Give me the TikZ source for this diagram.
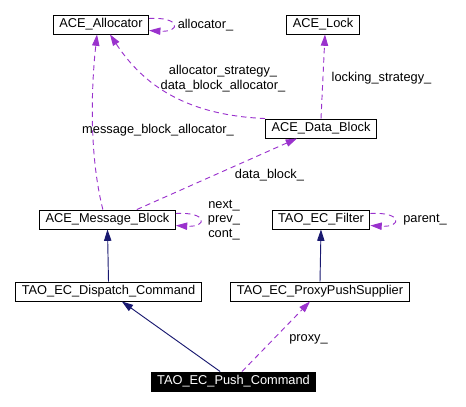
\documentclass[tikz,border=0pt]{standalone}
\usepackage{fontspec}
\setmainfont{Liberation Sans}
\usetikzlibrary{arrows.meta,positioning}
\definecolor{usec}{HTML}{9A32CD}
\definecolor{inhc}{HTML}{191970}
\tikzset{
  cls/.style={draw=black, line width=0.7pt, inner xsep=4.5pt, inner ysep=0pt, minimum height=14.25pt, font=\fontsize{9.6}{11}\selectfont},
  cur/.style={cls, fill=black, text=white},
  lbl/.style={font=\fontsize{9.6}{11}\selectfont, align=center, inner sep=0pt},
  uses/.style={usec, line width=0.7pt, dash pattern=on 4pt off 3pt, -{Triangle[length=8.5pt, width=5.5pt]}},
  inh/.style={inhc, line width=0.7pt, -{Triangle[length=8.5pt, width=5.5pt]}},
}

\begin{document}
\begin{tikzpicture}[x=0.75pt, y=-0.75pt]
  \useasboundingbox (0,0) rectangle (466,406);
  % classes
  \node[cls] (alloc) at (101,24.5) {ACE\_Allocator};
  \node[cls] (lock) at (323,24.5) {ACE\_Lock};
  \node[cls] (datablk) at (321,128.5) {ACE\_Data\_Block};
  \node[cls] (msgblk) at (107.5,219.5) {ACE\_Message\_Block};
  \node[cls] (filter) at (321,219.5) {TAO\_EC\_Filter};
  \node[cls] (dispatch) at (108.5,291.5) {TAO\_EC\_Dispatch\_Command};
  \node[cls] (proxy) at (320,291.5) {TAO\_EC\_ProxyPushSupplier};
  \node[cur] (push) at (233.5,381.5) {TAO\_EC\_Push\_Command};
  % inheritance
  \draw[inh] (dispatch.north) -- (msgblk.south);
  \draw[inh] (proxy.north) -- (filter.south);
  \draw[inh] ([xshift=-10pt]push.north) -- ([xshift=10pt]dispatch.south);
  % usage
  \draw[uses] ([yshift=4.5pt]alloc.east) .. controls +(32,-2) and +(32,2) .. ([yshift=-4.5pt]alloc.east);
  \draw[uses] ([yshift=4.5pt]msgblk.east) .. controls +(32,-2) and +(32,2) .. ([yshift=-4.5pt]msgblk.east);
  \draw[uses] ([yshift=4.5pt]filter.east) .. controls +(32,-2) and +(32,2) .. ([yshift=-4.5pt]filter.east);
  \draw[uses] ([xshift=-3.5pt]msgblk.north) .. controls (88,150) and (92,80) .. ([xshift=-3pt]alloc.south);
  \draw[uses] (datablk.north west) .. controls (180,115) and (140,80) .. ([xshift=6.75pt]alloc.south);
  \draw[uses] (datablk.north) -- ([xshift=1.5pt]lock.south);
  \draw[uses] ([xshift=22pt]msgblk.north) -- ([xshift=-18pt]datablk.south);
  \draw[uses] ([xshift=6.4pt]push.north) -- ([xshift=-7.5pt]proxy.south);
  % labels
  \node[lbl] (l_alloc) at (205.5,25) {allocator\_};
  \node[lbl] (l_strat) at (223,78.5) {allocator\_strategy\_\\data\_block\_allocator\_};
  \node[lbl] (l_lock) at (381.5,78) {locking\_strategy\_};
  \node[lbl] (l_mba) at (158,130) {message\_block\_allocator\_};
  \node[lbl] (l_data) at (269.5,175) {data\_block\_};
  \node[lbl] (l_npc) at (224,220) {next\_\\prev\_\\cont\_};
  \node[lbl] (l_parent) at (425,220) {parent\_};
  \node[lbl] (l_proxy) at (308.5,339) {proxy\_};
\end{tikzpicture}
\end{document}
